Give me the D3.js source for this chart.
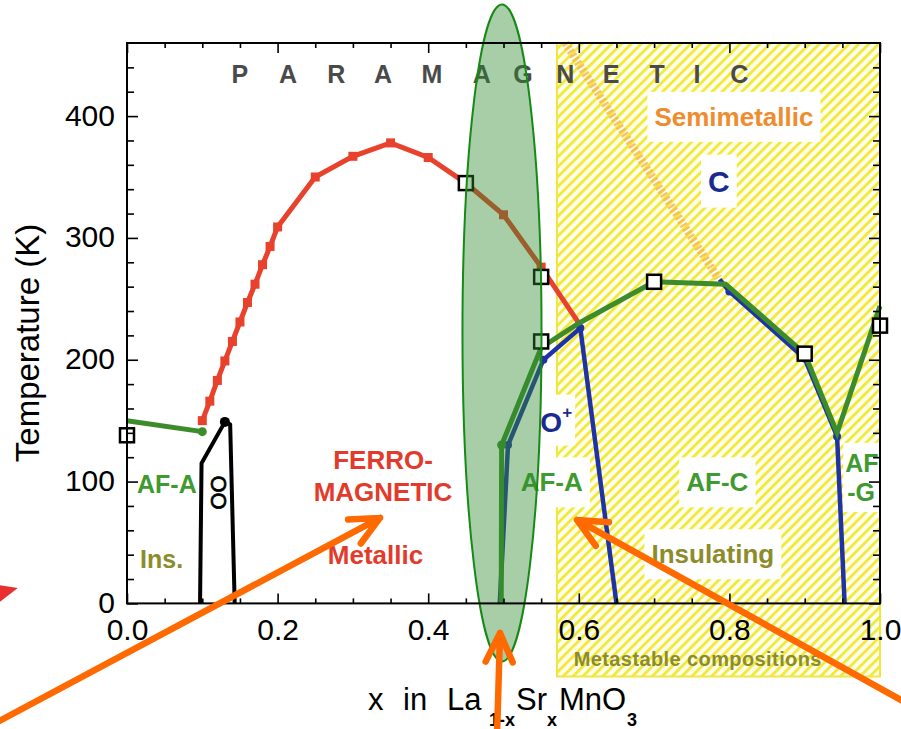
<!DOCTYPE html>
<html>
<head>
<meta charset="utf-8">
<script src="https://cdn.jsdelivr.net/npm/d3@7"></script>
<style>
body { margin: 0; background: #fff; }
svg { display: block; font-family: "Liberation Sans", Arial, sans-serif; }
</style>
</head>
<body>
<svg id="chart" width="901" height="729"></svg>
<script>

// ferromagnetic Tc line (red)
var ferroX = [0.10, 0.11, 0.12, 0.13, 0.14, 0.15, 0.16, 0.17, 0.18, 0.19, 0.20, 0.25, 0.30, 0.35, 0.40, 0.45, 0.50, 0.55, 0.60];
var ferroT = [150, 166, 183, 199, 215, 231, 247, 262, 278, 293, 309, 350, 367, 378, 366, 345, 319, 276, 230];

// AF-A boundary at low x (green)
var afaLowX = [0.0, 0.10];
var afaLowT = [150, 141];

// O'' region outline (black)
var ooX = [0.097, 0.099, 0.130, 0.137, 0.143];
var ooT = [0, 115, 149, 147, 0];

// Neel line (green)
var neelX = [0.497, 0.4975, 0.55, 0.60, 0.70, 0.795, 0.90, 0.943, 1.0];
var neelT = [0, 130, 210, 230, 264, 262, 205, 140, 244];

// structural boundaries (blue)
var blueAX = [0.495, 0.506, 0.553, 0.602, 0.650];
var blueAT = [0, 130, 200, 226, 0];
var blueCX = [0.787, 0.80, 0.90, 0.943, 0.953];
var blueCT = [266, 256, 201, 137, 0];

// open squares
var squareX = [0.0, 0.45, 0.55, 0.55, 0.70, 0.90, 1.0];
var squareT = [138, 345, 268, 215, 264, 205, 228];

// semimetallic boundary (dotted orange)
var semiX = [0.582, 0.785];
var semiT = [460, 267];

// metastable (hatched) region
var metaX = [0.571, 1.0];
var metaT = [-60, 460];

// highlighted composition
var ellipseC = [0.498, 222];
var ellipseR = [0.0525, 269.6];

// axis ticks
var xMajor = [0, 0.2, 0.4, 0.6, 0.8, 1.0];
var xMinor = d3.range(1, 20).map(function(i) { return i / 20; }).filter(function(v) { return Math.round(v * 100) % 20 !== 0; });
var yMajor = [0, 100, 200, 300, 400];
var yMinor = d3.range(20, 460, 20).filter(function(v) { return v % 100 !== 0; });

var letters = 'PARAMAGNETIC'.split('');
var letterX = [0.150, 0.214, 0.278, 0.340, 0.405, 0.471, 0.526, 0.582, 0.643, 0.704, 0.757, 0.813];

// region labels [text, x, T, colour, size, boxed]
var labels = [
    ['Semimetallic', 0.806, 392, '#ef8c2e', 26, true],
    ['C', 0.786, 338, '#1b2a8f', 30, true],
    ['AF-A', 0.564, 92, '#3f9a2f', 26, true],
    ['AF-C', 0.784, 92, '#3f9a2f', 26, true],
    ['Insulating', 0.778, 33, '#8c8c2a', 26, true],
    ['FERRO-', 0.340, 110, '#e23b2b', 26, false],
    ['MAGNETIC', 0.340, 84, '#e23b2b', 26, false],
    ['Metallic', 0.330, 32, '#e23b2b', 26, false],
    ['AF-A', 0.053, 91, '#3f9a2f', 25, false],
    ['Ins.', 0.046, 29, '#8c8c2a', 25, false]
];

// orange arrows [x1, T1, x2, T2] (tail -> tip)
var arrows = [
    [-0.182, -100.6, 0.336, 70.2],
    [0.4914, -108, 0.4954, -24.3],
    [1.040, -83.4, 0.5976, 68.5]
];
var redWedgeX = [-0.169, -0.145, -0.169];
var redWedgeT = [15, 12.7, 1.2];

var svg = d3.select('#chart');
var x = d3.scaleLinear().domain([0, 1]).range([127, 880]);
var y = d3.scaleLinear().domain([0, 460]).range([603.4, 43]);

var line = d3.line()
    .x(function(d) { return x(d[0]); })
    .y(function(d) { return y(d[1]); });

var defs = svg.append('defs');
var pat = defs.append('pattern')
    .attr('id', 'hatch')
    .attr('patternUnits', 'userSpaceOnUse')
    .attr('width', 7).attr('height', 7)
    .attr('patternTransform', 'rotate(45)');
pat.append('rect').attr('width', 7).attr('height', 7).attr('fill', '#fffff0');
pat.append('rect').attr('width', 2.8).attr('height', 7).attr('fill', '#f2e836');

// hatched metastable region
svg.append('rect')
    .attr('x', x(metaX[0]))
    .attr('y', y(metaT[1]))
    .attr('width', x(metaX[1]) - x(metaX[0]))
    .attr('height', y(metaT[0]) - y(metaT[1]))
    .attr('fill', 'url(#hatch)')
    .attr('stroke', '#f0e640')
    .attr('stroke-width', 2);

svg.append('text')
    .attr('x', x(0.758)).attr('y', y(-51))
    .attr('text-anchor', 'middle')
    .attr('font-weight', 'bold').attr('font-size', 20)
    .attr('letter-spacing', 0.4)
    .attr('fill', '#8c8c2a')
    .text('Metastable compositions');

// semimetallic boundary
svg.append('path')
    .datum(d3.zip(semiX, semiT))
    .attr('d', line)
    .attr('fill', 'none')
    .attr('stroke', '#f6b350')
    .attr('stroke-width', 8)
    .attr('stroke-dasharray', '2.5,2')
    .attr('opacity', 0.8);

function addLabel(l) {
    var t = svg.append('text')
        .attr('x', x(l[1]))
        .attr('y', y(l[2]))
        .attr('text-anchor', 'middle')
        .attr('font-weight', 'bold')
        .attr('font-size', l[4])
        .attr('fill', l[3])
        .text(l[0]);
    return t;
}

function boxBehind(nodes, px, py) {
    var bb = nodes.map(function(n) { return n.node().getBBox(); });
    var x0 = d3.min(bb, function(b) { return b.x; }) - px;
    var x1 = d3.max(bb, function(b) { return b.x + b.width; }) + px;
    var y0 = d3.min(bb, function(b) { return b.y; }) - py;
    var y1 = d3.max(bb, function(b) { return b.y + b.height; }) + py;
    svg.insert('rect', function() { return nodes[0].node(); })
        .attr('x', x0).attr('y', y0)
        .attr('width', x1 - x0).attr('height', y1 - y0)
        .attr('fill', '#fff');
}

labels.forEach(function(l) {
    var t = addLabel(l);
    if (l[5]) boxBehind([t], 7, 10);
});

// O+ label
var oLab = svg.append('text')
    .attr('x', x(0.570)).attr('y', y(141))
    .attr('text-anchor', 'middle')
    .attr('font-weight', 'bold').attr('font-size', 28)
    .attr('fill', '#1b2a8f');
oLab.append('tspan').text('O');
oLab.append('tspan').attr('font-size', 17).attr('dy', -14).text('+');
boxBehind([oLab], 3, 8);

// AF / -G label
var afg1 = addLabel(['AF', 0.976, 108, '#3f9a2f', 25]);
var afg2 = addLabel(['-G', 0.975, 84, '#3f9a2f', 25]);
boxBehind([afg1, afg2], 2, 6);

// O'' label, rotated
svg.append('text')
    .attr('transform', 'translate(' + x(0.122) + ',' + y(91) + ') rotate(90)')
    .attr('text-anchor', 'middle')
    .attr('dy', '0.36em')
    .attr('font-size', 22)
    .attr('fill', '#000')
    .attr('stroke', '#000').attr('stroke-width', 0.7)
    .text('OO');

// phase lines
svg.append('path').datum(d3.zip(afaLowX, afaLowT)).attr('d', line)
    .attr('fill', 'none').attr('stroke', '#3d8c2b').attr('stroke-width', 5);

svg.append('path').datum(d3.zip(ooX, ooT)).attr('d', line)
    .attr('fill', 'none').attr('stroke', '#000').attr('stroke-width', 4)
    .attr('stroke-linejoin', 'round');

svg.append('path').datum(d3.zip(ferroX, ferroT)).attr('d', line)
    .attr('fill', 'none').attr('stroke', '#e8412c').attr('stroke-width', 5);

svg.selectAll('.fm').data(d3.zip(ferroX, ferroT).slice(0, -1)).enter()
    .append('rect').attr('class', 'fm')
    .attr('x', function(d) { return x(d[0]) - 4.5; })
    .attr('y', function(d) { return y(d[1]) - 4.5; })
    .attr('width', 9).attr('height', 9)
    .attr('fill', '#e8412c');

[d3.zip(blueAX, blueAT), d3.zip(blueCX, blueCT)].forEach(function(pts) {
    svg.append('path').datum(pts).attr('d', line)
        .attr('fill', 'none').attr('stroke', '#1f33a6').attr('stroke-width', 4.5);
    svg.selectAll(null).data(pts.slice(1, -1)).enter()
        .append('circle')
        .attr('cx', function(d) { return x(d[0]); })
        .attr('cy', function(d) { return y(d[1]); })
        .attr('r', 4).attr('fill', '#1f33a6');
});

svg.append('path').datum(d3.zip(neelX, neelT)).attr('d', line)
    .attr('fill', 'none').attr('stroke', '#3d8c2b').attr('stroke-width', 5);

svg.selectAll('.gdot').data([[afaLowX[1], afaLowT[1]], [neelX[1], neelT[1]]]).enter()
    .append('circle').attr('class', 'gdot')
    .attr('cx', function(d) { return x(d[0]); })
    .attr('cy', function(d) { return y(d[1]); })
    .attr('r', 4.5).attr('fill', '#3d8c2b');

svg.append('circle')
    .attr('cx', x(ooX[2])).attr('cy', y(ooT[2]))
    .attr('r', 5).attr('fill', '#000');

// open squares
svg.selectAll('.sq').data(d3.zip(squareX, squareT)).enter()
    .append('rect').attr('class', 'sq')
    .attr('x', function(d) { return x(d[0]) - 7; })
    .attr('y', function(d) { return y(d[1]) - 7; })
    .attr('width', 14).attr('height', 14)
    .attr('fill', '#fff').attr('stroke', '#000').attr('stroke-width', 2.5);

// PARAMAGNETIC
svg.selectAll('.pm').data(letters).enter()
    .append('text').attr('class', 'pm')
    .attr('x', function(d, i) { return x(letterX[i]); })
    .attr('y', y(427))
    .attr('text-anchor', 'middle')
    .attr('font-weight', 'bold').attr('font-size', 25)
    .attr('fill', '#4a4a4a')
    .text(function(d) { return d; });

// highlight ellipse
svg.append('ellipse')
    .attr('cx', x(ellipseC[0]))
    .attr('cy', y(ellipseC[1]))
    .attr('rx', x(ellipseR[0]) - x(0))
    .attr('ry', y(0) - y(ellipseR[1]))
    .attr('fill', '#2e8b2e').attr('fill-opacity', 0.42)
    .attr('stroke', '#168a16').attr('stroke-width', 2);

// frame and ticks
svg.append('rect')
    .attr('x', x(0)).attr('y', y(460))
    .attr('width', x(1) - x(0)).attr('height', y(0) - y(460))
    .attr('fill', 'none').attr('stroke', '#000').attr('stroke-width', 2);

function tickAxis(axis, tr, vals, size, fmt, pad) {
    var g = svg.append('g').attr('transform', tr)
        .call(axis.tickValues(vals).tickSize(-size).tickSizeOuter(0)
            .tickPadding(pad || 3).tickFormat(fmt || ''));
    g.select('.domain').remove();
    g.selectAll('line').attr('stroke-width', 1.6);
    g.attr('font-size', 30).attr('font-family', null);
    return g;
}

tickAxis(d3.axisBottom(x), 'translate(0,' + y(0) + ')', xMajor, 10, d3.format('.1f'), 15);
tickAxis(d3.axisBottom(x), 'translate(0,' + y(0) + ')', xMinor, 5);
tickAxis(d3.axisTop(x), 'translate(0,' + y(460) + ')', xMajor, 10);
tickAxis(d3.axisTop(x), 'translate(0,' + y(460) + ')', xMinor, 5);
var yg = tickAxis(d3.axisLeft(y), 'translate(' + x(0) + ',0)', yMajor, 11, d3.format('d'), 12);
yg.selectAll('text').attr('dy', '0.3em');
tickAxis(d3.axisLeft(y), 'translate(' + x(0) + ',0)', yMinor, 7);
tickAxis(d3.axisRight(y), 'translate(' + x(1) + ',0)', yMajor, 11);
tickAxis(d3.axisRight(y), 'translate(' + x(1) + ',0)', yMinor, 7);

// axis titles
svg.append('text')
    .attr('transform', 'translate(38.5,343) rotate(-90)')
    .attr('text-anchor', 'middle')
    .attr('font-size', 33)
    .text('Temperature (K)');

var xt = svg.append('g');
[['x', 368, 710, 31], ['in', 403, 710, 31], ['La', 447, 710, 31], ['1-x', 489, 726, 18],
 ['Sr', 516, 710, 31], ['x', 547, 726, 18], ['MnO', 559, 710, 31], ['3', 627, 726, 18]]
    .forEach(function(p) {
        xt.append('text').attr('x', p[1]).attr('y', p[2])
            .attr('font-size', p[3])
            .attr('font-weight', p[3] < 20 ? 'bold' : 'normal')
            .text(p[0]);
    });

// orange arrows
arrows.forEach(function(a) {
    var x1 = x(a[0]), y1 = y(a[1]), x2 = x(a[2]), y2 = y(a[3]);
    var ang = Math.atan2(y1 - y2, x1 - x2);
    var len = 32, spread = 25 * Math.PI / 180;
    var d = 'M' + x1 + ',' + y1 + 'L' + x2 + ',' + y2 +
        'M' + (x2 + len * Math.cos(ang + spread)) + ',' + (y2 + len * Math.sin(ang + spread)) +
        'L' + x2 + ',' + y2 +
        'L' + (x2 + len * Math.cos(ang - spread)) + ',' + (y2 + len * Math.sin(ang - spread));
    svg.append('path').attr('d', d)
        .attr('fill', 'none').attr('stroke', '#ff6a00')
        .attr('stroke-width', 6.5).attr('stroke-linecap', 'round')
        .attr('stroke-linejoin', 'round');
});

svg.append('path')
    .datum(d3.zip(redWedgeX, redWedgeT))
    .attr('d', function(d) { return line(d) + 'Z'; })
    .attr('fill', '#e83030');
</script>
</body>
</html>
